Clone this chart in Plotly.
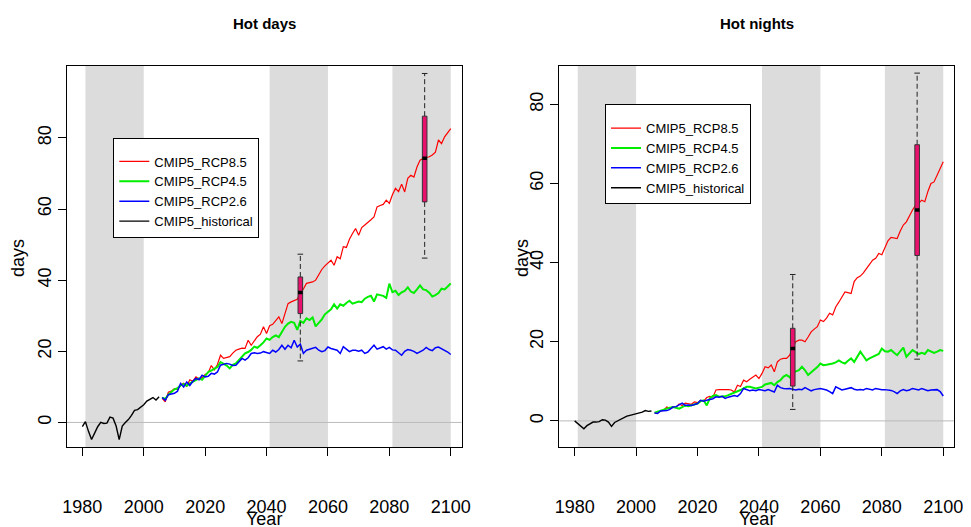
import plotly.graph_objects as go

# ---------------- data ----------------
hist_years = list(range(1980, 2006))
proj_years = list(range(2006, 2101))

# Hot days
hd_hist = [-1.2, 0.2, -2.5, -4.8, -3.0, -1.2, 0.0, -0.3, -0.2, 1.5, 1.2, -1.0, -4.8,
           -1.0, 0.0, 0.8, 2.0, 3.4, 3.6, 4.2, 5.0, 6.0, 6.5, 7.0, 6.3, 7.2]
hd_rcp85 = [6.8, 5.8, 8.5, 8.8, 9.5, 9.3, 10.5, 11.0, 10.2, 12.0, 11.6, 12.8, 12.2, 12.6,
            13.5, 14.0, 16.0, 14.8, 16.3, 18.9, 18.0, 18.3, 18.5, 19.5, 20.3, 20.6, 20.9,
            20.8, 23.1, 21.7, 23.0, 24.1, 24.8, 26.9, 25.0, 27.2, 27.6, 28.6, 29.7, 27.8,
            31.0, 33.4, 33.9, 34.3, 34.6, 36.3, 37.5, 39.1, 39.3, 39.5, 40.0, 41.5, 43.0,
            44.0, 44.7, 45.6, 44.2, 46.6, 46.0, 49.4, 49.2, 51.5, 53.1, 54.5, 52.6, 54.8,
            55.5, 56.4, 57.0, 57.8, 60.6, 61.0, 61.3, 62.5, 61.6, 64.0, 65.8, 64.9, 67.0,
            64.8, 68.6, 69.5, 69.0, 71.8, 73.7, 74.2, 74.4, 74.7, 75.2, 76.0, 79.4, 78.4,
            80.3, 81.5, 82.6]
hd_rcp45 = [7.0, 6.6, 7.8, 8.5, 9.3, 9.6, 10.4, 10.8, 10.3, 11.0, 11.4, 12.0, 12.4, 12.0,
            13.2, 14.2, 14.6, 15.0, 15.6, 17.0, 16.5, 16.0, 15.2, 16.2, 16.6, 17.5, 18.4,
            19.4, 19.8, 20.4, 21.3, 21.0, 21.7, 22.5, 23.6, 23.2, 24.0, 24.5, 24.0, 25.5,
            26.9, 27.8, 28.3, 28.0, 26.0, 28.5, 28.0, 29.3, 28.8, 29.5, 27.0, 28.0, 29.0,
            30.4, 31.0, 31.8, 33.2, 32.0, 33.2, 32.8, 33.6, 34.2, 33.4, 33.6, 34.0, 33.8,
            34.8, 35.3, 35.6, 34.0, 36.0, 35.8, 35.6, 35.0, 39.0, 36.6, 37.0, 35.8, 36.6,
            37.0, 38.0, 36.8, 36.4, 37.4, 38.5, 37.4, 37.2, 36.5, 35.4, 35.8, 36.4, 37.6,
            37.4, 38.2, 39.1]
hd_rcp26 = [7.0, 6.2, 7.8, 8.0, 8.2, 8.8, 11.0, 10.0, 11.4, 10.4, 11.6, 12.4, 12.0, 13.3,
            12.8, 13.0, 13.8, 13.6, 14.2, 16.1, 16.3, 16.6, 16.4, 16.0, 16.1, 17.2, 18.0,
            17.5, 18.2, 19.4, 19.6, 19.4, 19.5, 19.9, 19.6, 19.4, 20.3, 19.8, 20.5, 21.7,
            20.6, 21.7, 21.0, 23.1, 21.2, 22.0, 19.4, 20.3, 20.6, 20.8, 21.1, 20.3, 19.9,
            20.2, 21.2, 20.8, 20.5, 20.3, 19.4, 21.3, 20.6, 19.9, 20.3, 20.3, 20.0, 20.3,
            19.4, 19.8, 20.8, 21.7, 20.6, 20.9, 21.3, 20.6, 21.1, 20.4, 20.3, 19.6, 18.9,
            20.0, 20.5, 20.3, 20.0, 19.4, 19.8, 20.3, 21.1, 20.5, 20.2, 21.0, 21.2, 20.8,
            20.4, 19.8, 19.1]

# Hot nights
hn_hist = [0.0, -0.6, -1.4, -2.0, -1.2, -0.8, -0.3, -0.3, -0.2, 0.3, 0.2, -0.3, -1.4,
           -0.4, 0.0, 0.4, 0.9, 1.2, 1.4, 1.6, 1.8, 2.0, 2.2, 2.6, 2.4, 2.5]
hn_rcp85 = [2.0, 2.2, 2.5, 2.7, 3.5, 3.2, 3.6, 3.4, 4.3, 3.9, 4.5, 4.4, 4.2, 4.8, 4.6,
            5.2, 5.0, 5.9, 6.2, 6.0, 7.8, 7.9, 7.9, 8.0, 7.9, 7.8, 7.3, 9.0, 8.7, 10.3,
            9.9, 10.5, 11.1, 11.6, 10.7, 12.0, 13.7, 13.4, 14.1, 12.4, 14.9, 15.6, 15.8,
            15.8, 16.6, 18.7, 20.0, 20.4, 20.4, 20.0, 21.2, 22.5, 23.2, 23.8, 25.5, 25.1,
            26.0, 27.2, 26.8, 28.8, 30.0, 31.4, 32.6, 32.4, 32.2, 35.2, 36.2, 36.6, 37.4,
            38.5, 39.5, 40.6, 41.1, 42.3, 42.0, 44.0, 45.5, 46.4, 46.2, 46.1, 48.0, 49.5,
            50.3, 52.0, 53.3, 54.5, 55.0, 55.8, 55.4, 58.0, 60.0, 60.4, 62.0, 63.8, 65.5]
hn_rcp45 = [2.1, 2.4, 2.7, 2.9, 3.1, 3.3, 3.5, 3.3, 3.1, 3.5, 3.9, 3.7, 4.0, 4.2, 4.4,
            5.0, 5.2, 3.9, 5.7, 6.3, 6.5, 6.1, 6.2, 6.2, 6.5, 6.8, 7.0, 7.4, 7.8, 8.2,
            8.6, 8.6, 8.4, 8.2, 8.4, 8.6, 9.2, 9.5, 9.6, 9.0, 9.8, 10.3, 11.2, 11.6, 11.0,
            12.2, 12.6, 12.8, 13.7, 12.8, 11.6, 12.2, 12.8, 13.6, 14.5, 14.1, 14.2, 14.3,
            14.5, 14.8, 15.3, 14.8, 14.5, 15.2, 15.8, 14.9, 16.2, 17.5, 16.4, 15.3, 15.8,
            16.2, 16.6, 16.9, 18.3, 17.6, 17.5, 17.9, 17.2, 16.6, 17.6, 18.5, 16.2, 17.0,
            17.9, 17.4, 16.9, 17.2, 16.9, 17.9, 17.6, 17.2, 17.5, 17.9, 17.7]
hn_rcp26 = [2.0, 1.9, 2.5, 2.5, 2.6, 2.9, 3.5, 3.6, 4.0, 4.5, 3.9, 4.0, 3.9, 4.2, 4.4,
            5.2, 5.0, 5.2, 5.4, 5.6, 6.1, 6.0, 6.2, 5.7, 6.0, 6.2, 6.4, 6.2, 6.9, 8.2,
            7.8, 7.6, 7.8, 7.6, 7.9, 7.8, 7.6, 7.9, 7.5, 7.3, 9.0, 8.4, 8.2, 8.1, 8.2,
            7.9, 7.8, 8.0, 7.9, 8.4, 8.0, 7.6, 7.9, 8.1, 8.2, 8.0, 7.8, 7.4, 6.9, 8.6,
            8.2, 7.8, 8.0, 8.2, 8.4, 8.0, 7.8, 7.9, 7.8, 8.2, 8.0, 7.8, 8.2, 8.0, 7.9,
            7.9, 7.8, 7.7, 7.4, 6.9, 7.6, 7.9, 7.6, 7.8, 8.2, 7.9, 7.8, 8.2, 7.8, 7.6,
            7.8, 7.9, 7.9, 7.4, 6.3]

# box plots (min, q1, median, q3, max) for 2041-2060 and 2081-2100
box_x = [2051, 2091.5]
hd_box_low = [17.3, 46.2]
hd_box_q1 = [30.6, 62.0]
hd_box_med = [36.5, 74.3]
hd_box_q3 = [40.9, 86.1]
hd_box_high = [47.3, 98.1]
hn_box_low = [2.9, 15.6]
hn_box_q1 = [8.8, 41.8]
hn_box_med = [18.3, 53.3]
hn_box_q3 = [23.4, 69.8]
hn_box_high = [37.0, 87.9]

periods = [(1981, 2000), (2041, 2060), (2081, 2100)]
x_ticks = [1980, 2000, 2020, 2040, 2060, 2080, 2100]
y_ticks = [0, 20, 40, 60, 80]
series_names = ["CMIP5_RCP8.5", "CMIP5_RCP4.5", "CMIP5_RCP2.6", "CMIP5_historical"]
titles = ["Hot days", "Hot nights"]

# ---------------- styling ----------------
FONT = "Liberation Sans, Arial, sans-serif"
colors = ["#FF0000", "#00EE00", "#0000FF", "#000000"]
widths = [1.2, 2.0, 1.5, 1.4]
BOX_COLOR = "#E8126E"
BOX_W = 1.5

fig = go.Figure()

panels = [
    dict(hist=hd_hist, proj=[hd_rcp85, hd_rcp45, hd_rcp26],
         box=[hd_box_low, hd_box_q1, hd_box_med, hd_box_q3, hd_box_high],
         xa="x", ya="y", legend="legend"),
    dict(hist=hn_hist, proj=[hn_rcp85, hn_rcp45, hn_rcp26],
         box=[hn_box_low, hn_box_q1, hn_box_med, hn_box_q3, hn_box_high],
         xa="x2", ya="y2", legend="legend2"),
]

for p in panels:
    xa, ya = p["xa"], p["ya"]
    fig.add_trace(go.Scatter(x=hist_years, y=p["hist"], mode="lines", name=series_names[3],
                             line=dict(color=colors[3], width=widths[3]),
                             xaxis=xa, yaxis=ya, legend=p["legend"], legendrank=4))
    for i, vals in enumerate(p["proj"]):
        fig.add_trace(go.Scatter(x=proj_years, y=vals, mode="lines", name=series_names[i],
                                 line=dict(color=colors[i], width=widths[i]),
                                 xaxis=xa, yaxis=ya, legend=p["legend"], legendrank=i + 1))
    low, q1, med, q3, high = p["box"]
    wx, wy = [], []
    for j, bx in enumerate(box_x):
        wx += [bx, bx, None, bx, bx, None]
        wy += [q3[j], high[j], None, q1[j], low[j], None]
    fig.add_trace(go.Scatter(x=wx, y=wy, mode="lines", showlegend=False, hoverinfo="skip",
                             line=dict(color="#222222", width=1, dash="5px,3px"),
                             xaxis=xa, yaxis=ya))
    fig.add_trace(go.Scatter(x=box_x + box_x, y=high + low, mode="markers", showlegend=False,
                             marker=dict(symbol="line-ew", size=4,
                                         line=dict(color="#222222", width=1)),
                             xaxis=xa, yaxis=ya))
    for j, bx in enumerate(box_x):
        fig.add_trace(go.Scatter(
            x=[bx - BOX_W / 2, bx + BOX_W / 2, bx + BOX_W / 2, bx - BOX_W / 2, bx - BOX_W / 2],
            y=[q1[j], q1[j], q3[j], q3[j], q1[j]],
            mode="lines", fill="toself", fillcolor=BOX_COLOR, showlegend=False,
            line=dict(color="#333333", width=1), xaxis=xa, yaxis=ya))
        fig.add_trace(go.Scatter(
            x=[bx - BOX_W / 2, bx + BOX_W / 2], y=[med[j], med[j]], mode="lines",
            showlegend=False, line=dict(color="black", width=3.5), xaxis=xa, yaxis=ya))

shapes = []
for xa, ya in [("x", "y"), ("x2", "y2")]:
    for a, b in periods:
        shapes.append(dict(type="rect", xref=xa, yref=f"{ya} domain", x0=a, x1=b, y0=0, y1=1,
                           fillcolor="#DCDCDC", line=dict(width=0), layer="below"))
    shapes.append(dict(type="line", xref=f"{xa} domain", yref=ya, x0=0, x1=1, y0=0, y1=0,
                       line=dict(color="#BBBBBB", width=1), layer="below"))

# the page body has an 8px margin, so the figure is laid out 8px up/left of the screen
W, H = 963, 519
dom_y = [1 - 439 / H, 1 - 58 / H]
dom_x1 = [59 / W, 453.5 / W]
dom_x2 = [551.3 / W, 946 / W]

axis_common = dict(showline=True, linecolor="black", linewidth=1, mirror=True,
                   ticks="outside", ticklen=8, tickcolor="black", tickwidth=1,
                   showgrid=False, zeroline=False, automargin=False,
                   tickfont=dict(family=FONT, size=18, color="black"))

xcommon = dict(axis_common, range=[1975.0, 2103.5], tickvals=x_ticks, ticklabelstandoff=35)
ycommon = dict(axis_common, tickvals=y_ticks, tickangle=-90, ticklabelstandoff=0)

legend_common = dict(bgcolor="white", bordercolor="black", borderwidth=1,
                     font=dict(family=FONT, size=13, color="black"),
                     title=dict(text=" ", font=dict(size=6)),
                     xanchor="left", yanchor="top", tracegroupgap=0)

annotations = []
centers = [(dom_x1[0] + dom_x1[1]) / 2, (dom_x2[0] + dom_x2[1]) / 2]
for k, cx in enumerate(centers):
    annotations.append(dict(text=f"<b>{titles[k]}</b>", x=cx, y=1 - 16 / H, xref="paper",
                            yref="paper", showarrow=False, xanchor="center", yanchor="middle",
                            font=dict(family=FONT, size=15, color="black")))
    annotations.append(dict(text="Year", x=cx, y=1 - 511 / H, xref="paper", yref="paper",
                            showarrow=False, xanchor="center", yanchor="middle",
                            font=dict(family=FONT, size=18, color="black")))
for lx in [10 / W, 514 / W]:
    annotations.append(dict(text="days", x=lx, y=1 - 250 / H, xref="paper", yref="paper",
                            showarrow=False, textangle=-90, xanchor="center", yanchor="middle",
                            font=dict(family=FONT, size=18, color="black")))

fig.update_layout(
    template="none",
    width=W, height=H, margin=dict(l=0, r=0, t=0, b=0, autoexpand=False),
    paper_bgcolor="white", plot_bgcolor="white",
    xaxis=dict(xcommon, domain=dom_x1, anchor="y"),
    yaxis=dict(ycommon, domain=dom_y, anchor="x", range=[-6.9, 100.2]),
    xaxis2=dict(xcommon, domain=dom_x2, anchor="y2"),
    yaxis2=dict(ycommon, domain=dom_y, anchor="x2", range=[-6.6, 89.7]),
    legend=dict(legend_common, x=105.3 / W, y=1 - 129.7 / H),
    legend2=dict(legend_common, x=597 / W, y=1 - 96.3 / H),
    shapes=shapes, annotations=annotations, showlegend=True,
)

fig.write_html("out.html")
